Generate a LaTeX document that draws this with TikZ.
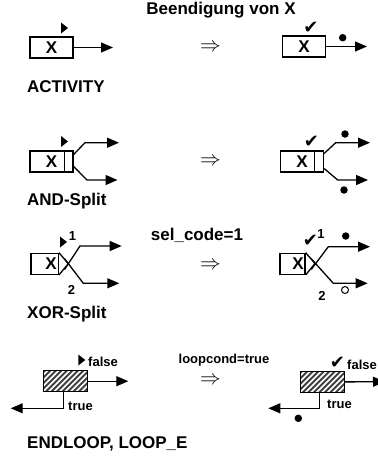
\documentclass[tikz,border=0pt]{standalone}
\usepackage{fontspec}
\setmainfont{Liberation Sans}
\newfontfamily\dingfont{DejaVu Sans}
\usetikzlibrary{arrows.meta}

\tikzset{
  wire/.style={line width=1.3pt},
  flow/.style={wire, -{Triangle[length=12pt,width=10pt]}},
  actbox/.style={draw, line width=1.3pt, minimum width=43pt, minimum height=21pt,
    inner sep=0pt, font=\fontsize{17}{17}\selectfont\bfseries},
  xorbox/.style={draw, line width=1.3pt, minimum height=21pt, inner sep=0pt},
  loopbox/.style={draw, line width=1.3pt, minimum width=44pt, minimum height=21pt,
    inner sep=0pt, fill=white,
    path picture={\foreach \d in {0,5.5,...,77}{
      \draw[black!75, line width=2pt]
        ([xshift={(\d-25)*1pt}]path picture bounding box.south west) -- ++(25,-25);}}},
  boxtext/.style={font=\fontsize{17}{17}\selectfont\bfseries, inner sep=0pt},
  caption/.style={font=\fontsize{17}{17}\selectfont\bfseries, anchor=west, inner sep=0pt},
  small/.style={font=\fontsize{13}{13}\selectfont\bfseries, inner sep=0pt},
  implies/.style={font=\fontsize{21}{21}\selectfont, inner sep=0pt},
  check/.style={font=\dingfont\fontsize{18}{18}\selectfont, inner sep=0pt},
  token/.style={circle, fill, inner sep=0pt, minimum size=7.5pt},
  freetoken/.style={circle, draw, line width=1pt, inner sep=0pt, minimum size=7pt},
  startmark/.pic={\fill (0,-5.5) -- (7,0) -- (0,5.5) -- cycle;}
}

\begin{document}
\begin{tikzpicture}[x=1pt, y=-1pt]
\useasboundingbox (0,0) rectangle (378,456);
\clip (0,0) rectangle (378,456);

% heading
\node[boxtext] (head) at (221,10) {Beendigung von X};

% ---------- ACTIVITY ----------
\node[actbox] (b1) at (51.5,47.5) {X};
\pic at (61,28) {startmark};
\coordinate (b1o) at (113,47.5);
\draw[flow] (b1) -- (b1o);
\node[caption] (cap1) at (27,87) {ACTIVITY};

\node[implies] (imp1) at (210.5,47.5) {$\Rightarrow$};

\node[actbox] (r1) at (304,46.5) {X};
\node[check] (ck1) at (311,28) {✔};
\coordinate (r1o) at (367,46.5);
\draw[flow] (r1) -- (r1o);
\node[token] (tk1) at (342.7,37.7) {};

% ---------- AND-Split ----------
\node[actbox] (b2) at (51.5,161.5) {X};
\draw[wire] ([xshift=-9.5pt]b2.north east) -- ([xshift=-9.5pt]b2.south east);
\pic at (61,141.5) {startmark};
\coordinate (b2uk) at (85,142.7);
\coordinate (b2ue) at (119,142.7);
\coordinate (b2lk) at (87,180);
\coordinate (b2le) at (117.5,180);
\draw[flow] ([yshift=7pt]b2.east) -- (b2uk) -- (b2ue);
\draw[flow] ([yshift=-5pt]b2.east) -- (b2lk) -- (b2le);
\node[caption] (cap2) at (27,201) {AND-Split};

\node[implies] (imp2) at (210.5,161.5) {$\Rightarrow$};

\node[actbox] (r2) at (302,161.5) {X};
\draw[wire] ([xshift=-9.5pt]r2.north east) -- ([xshift=-9.5pt]r2.south east);
\node[check] (ck2) at (311.5,141.5) {✔};
\coordinate (r2uk) at (335.7,142.7);
\coordinate (r2ue) at (370,142.7);
\coordinate (r2lk) at (337.7,180);
\coordinate (r2le) at (368,180);
\draw[flow] ([yshift=8pt]r2.east) -- (r2uk) -- (r2ue);
\draw[flow] ([yshift=-7pt]r2.east) -- (r2lk) -- (r2le);
\node[token] (tk2a) at (345,134) {};
\node[token] (tk2b) at (344,190) {};

% ---------- XOR-Split ----------
\node[boxtext] (sel) at (197,235.5) {sel\_code=1};

\node[xorbox, minimum width=27.3pt] (b3) at (44.65,263.8) {};
\node[boxtext] (b3x) at (51,264) {X};
\coordinate (b3t) at (68.3,263.7);
\draw[wire] (b3.north east) -- (b3t) -- (b3.south east);
\pic at (60,242) {startmark};
\node[small] (b3one) at (72.5,236) {1};
\node[small] (b3two) at (71.5,289.5) {2};
\coordinate (b3us) at (64.5,269.5);
\coordinate (b3uk) at (80,246);
\coordinate (b3ue) at (121.7,246);
\coordinate (b3ls) at (64.5,258.6);
\coordinate (b3lk) at (83.3,283.3);
\coordinate (b3le) at (119.3,283.3);
\draw[flow] (b3us) -- (b3uk) -- (b3ue);
\draw[flow] (b3ls) -- (b3lk) -- (b3le);
\node[caption] (cap3) at (27,314) {XOR-Split};

\node[implies] (imp3) at (210.5,266) {$\Rightarrow$};

\node[xorbox, minimum width=25pt] (r3) at (292.5,263.8) {};
\node[boxtext] (r3x) at (298,264) {X};
\coordinate (r3t) at (315,263.5);
\draw[wire] (r3.north east) -- (r3t) -- (r3.south east);
\node[check] (ck3) at (310.5,241.3) {✔};
\node[small] (r3one) at (321,234) {1};
\node[small] (r3two) at (322,296) {2};
\coordinate (r3us) at (311.3,269.4);
\coordinate (r3uk) at (328.3,246.7);
\coordinate (r3ue) at (370,246.7);
\coordinate (r3ls) at (311,258.5);
\coordinate (r3lk) at (333.3,283.3);
\coordinate (r3le) at (367.7,283.3);
\draw[flow] (r3us) -- (r3uk) -- (r3ue);
\draw[flow] (r3ls) -- (r3lk) -- (r3le);
\node[token] (tk3) at (345.7,236) {};
\node[freetoken] (ft3) at (345,290) {};

% ---------- ENDLOOP, LOOP_E ----------
\node[small] (cond) at (224,360) {loopcond=true};

\node[loopbox] (b4) at (65.3,381.2) {};
\pic at (78.3,360) {startmark};
\node[small, anchor=west] (b4f) at (88,361.5) {false};
\coordinate (b4o) at (128.3,381.2);
\draw[flow] (b4) -- (b4o);
\coordinate (b4back) at (10.7,408.3);
\draw[flow] ([xshift=-2pt]b4.south) |- (b4back);
\node[small, anchor=west] (b4t) at (68,406) {true};
\node[caption] (cap4) at (27,443.5) {ENDLOOP, LOOP\_E};

\node[implies] (imp4) at (210.5,381) {$\Rightarrow$};

\node[loopbox] (r4) at (322.2,382) {};
\node[check] (ck4) at (337.5,363) {✔};
\node[small, anchor=west] (r4f) at (347,365) {false};
\coordinate (r4o) at (385,381.7);
\draw[flow] (r4) -- (r4o);
\coordinate (r4back) at (268.3,408.3);
\draw[flow] ([xshift=-3pt]r4.south) |- (r4back);
\node[small, anchor=west] (r4t) at (327,404) {true};
\node[token] (tk4) at (298.3,418.3) {};

\end{tikzpicture}
\end{document}
